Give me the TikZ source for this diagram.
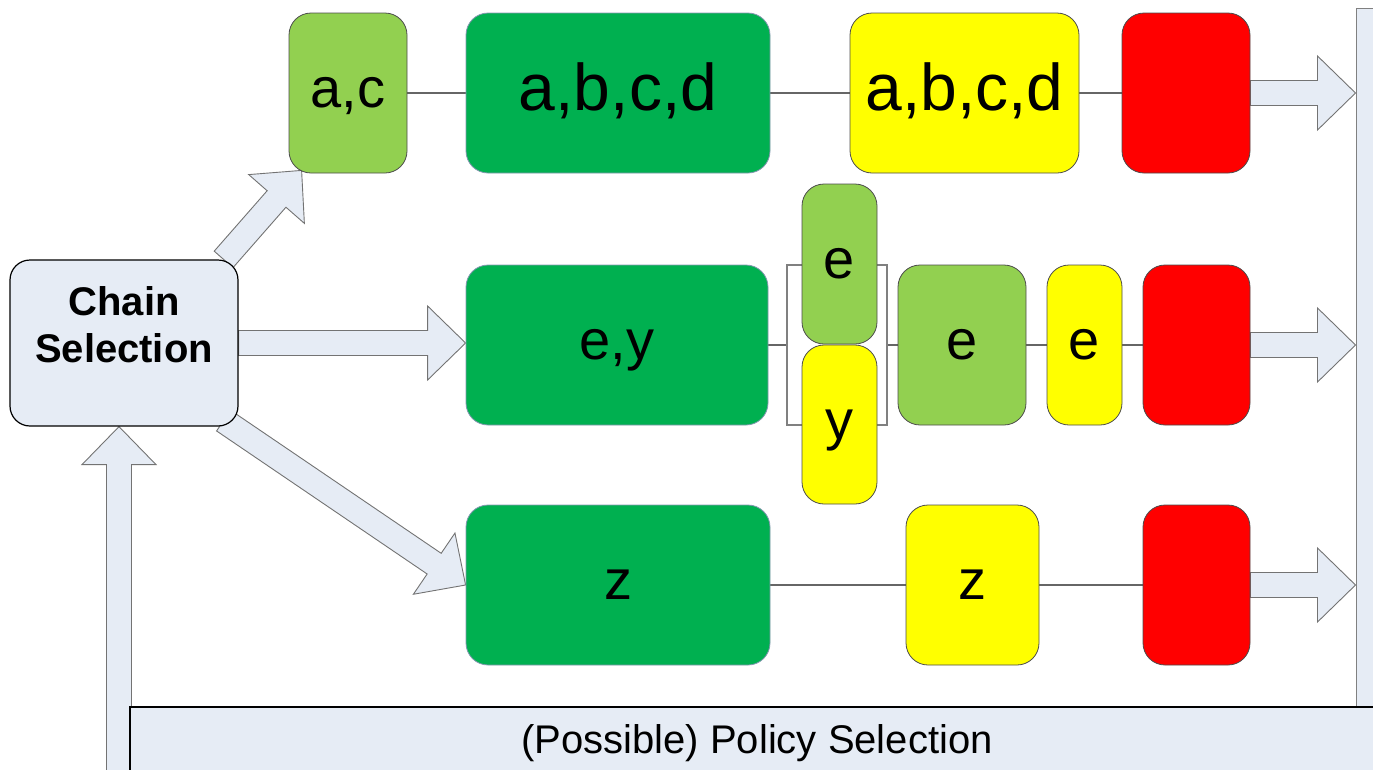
\documentclass[tikz,border=0pt]{standalone}
\usepackage{fontspec}
\setmainfont{Liberation Sans}
\usetikzlibrary{calc}

\definecolor{panelblue}{HTML}{E6ECF5}
\definecolor{lightgreen}{HTML}{92D050}
\definecolor{darkgreen}{HTML}{00B050}
\definecolor{boxyellow}{HTML}{FFFF00}
\definecolor{boxred}{HTML}{FF0000}
\definecolor{dkedge}{HTML}{8497B0}

\pgfdeclarelayer{back}
\pgfsetlayers{back,main}

\tikzset{
  box/.style={draw=black!70, line width=0.8pt, rounded corners=22pt, inner sep=0pt,
    font=\fontsize{56}{60}\selectfont, text height=29pt, text depth=0pt},
  bigtext/.style={font=\fontsize{66}{70}\selectfont, text height=34pt},
  sz/.style 2 args={minimum width=#1pt, minimum height=#2pt},
  ltbox/.style={box, fill=lightgreen},
  dkbox/.style={box, fill=darkgreen, draw=dkedge},
  ylbox/.style={box, fill=boxyellow},
  rdbox/.style={box, fill=boxred},
  panel/.style={fill=panelblue, line width=1.2pt, inner sep=0pt},
  link/.style={draw=black!60, line width=1.2pt},
  fatarr/.style={fill=panelblue, draw=black!55, line width=0.9pt},
}

% fat block arrow from #1 to #2 (tip at #2)
\newcommand{\fatarrow}[2]{%
  \begin{pgfonlayer}{back}
  \draw[fatarr] let \p1=(#1), \p2=(#2), \p3=($(\p2)!38pt!(\p1)$) in
    ($(\p1)!12.5pt!90:(\p2)$) -- ($(\p3)!12.5pt!90:(\p2)$) -- ($(\p3)!37pt!90:(\p2)$)
    -- (\p2) -- ($(\p3)!37pt!-90:(\p2)$) -- ($(\p3)!12.5pt!-90:(\p2)$)
    -- ($(\p1)!12.5pt!-90:(\p2)$) -- cycle;
  \end{pgfonlayer}}

\begin{document}
\begin{tikzpicture}[x=1pt, y=-1pt]
\useasboundingbox (0,0) rectangle (1373,769);
% Bars on the right and at the bottom
\node[panel, draw=black!50, line width=1pt, sz={34}{699}] (bar) at (1373,357.5) {};
\node[panel, draw=black, sz={1254}{64}, font=\fontsize{40}{46}\selectfont, text depth=0pt]
  (policy) at (757,739) {(Possible) Policy Selection};
% Chain selection
\node[panel, draw=black, rounded corners=20pt, sz={228}{166},
  label={[yshift=18pt, align=center, font=\bfseries\fontsize{40}{47}\selectfont]center:Chain\\Selection}]
  (chain) at (124,343) {};
\coordinate (fb) at (119,800);
% First row
\node[ltbox, sz={118}{160}] (ac) at (348,93) {a,c};
\node[dkbox, bigtext, sz={304}{160}] (abcd1) at (618,93) {a,b,c,d};
\node[ylbox, bigtext, sz={229}{160}] (abcd2) at (964.5,93) {a,b,c,d};
\node[rdbox, sz={128}{160}] (redA) at (1186,93) {};
% Second row
\node[dkbox, sz={302}{160}] (ey) at (617,345) {e,y};
\node[draw=black!50, line width=1.2pt, sz={100}{160}] (grp) at (837,345) {};
\node[ltbox, sz={75}{160}] (es) at (839.5,264) {e};
\node[ylbox, sz={75}{159}] (ys) at (839.5,424.5) {y};
\node[ltbox, sz={128}{160}] (eg) at (962,345) {e};
\node[ylbox, sz={75}{160}] (ey2) at (1084.5,345) {e};
\node[rdbox, sz={107}{160}] (redB) at (1196.5,345) {};
% Third row
\node[dkbox, sz={304}{160}] (z) at (618,585) {z};
\node[ylbox, sz={133}{160}] (zy) at (972.5,585) {z};
\node[rdbox, sz={107}{160}] (redC) at (1196.5,585) {};
% Thin links inside the rows
\begin{pgfonlayer}{back}
\draw[link] (ac) -- (abcd1) (abcd1) -- (abcd2) (abcd2) -- (redA);
\draw[link] (ey) -- (grp) (grp) -- (eg) (eg) -- (ey2) (ey2) -- (redB);
\draw[link] (z) -- (zy) (zy) -- (redC);
\end{pgfonlayer}
% Fat arrows
\fatarrow{$(chain.north east)+(-15,0)$}{$(ac.south west)+(13,-3)$}
\fatarrow{chain.east}{chain.east -| ey.west}
\fatarrow{$(chain.south east)+(-15,-6)$}{z.west}
\fatarrow{fb}{fb |- chain.south}
\fatarrow{redA.east}{redA.east -| bar.west}
\fatarrow{redB.east}{redB.east -| bar.west}
\fatarrow{redC.east}{redC.east -| bar.west}
\end{tikzpicture}
\end{document}
